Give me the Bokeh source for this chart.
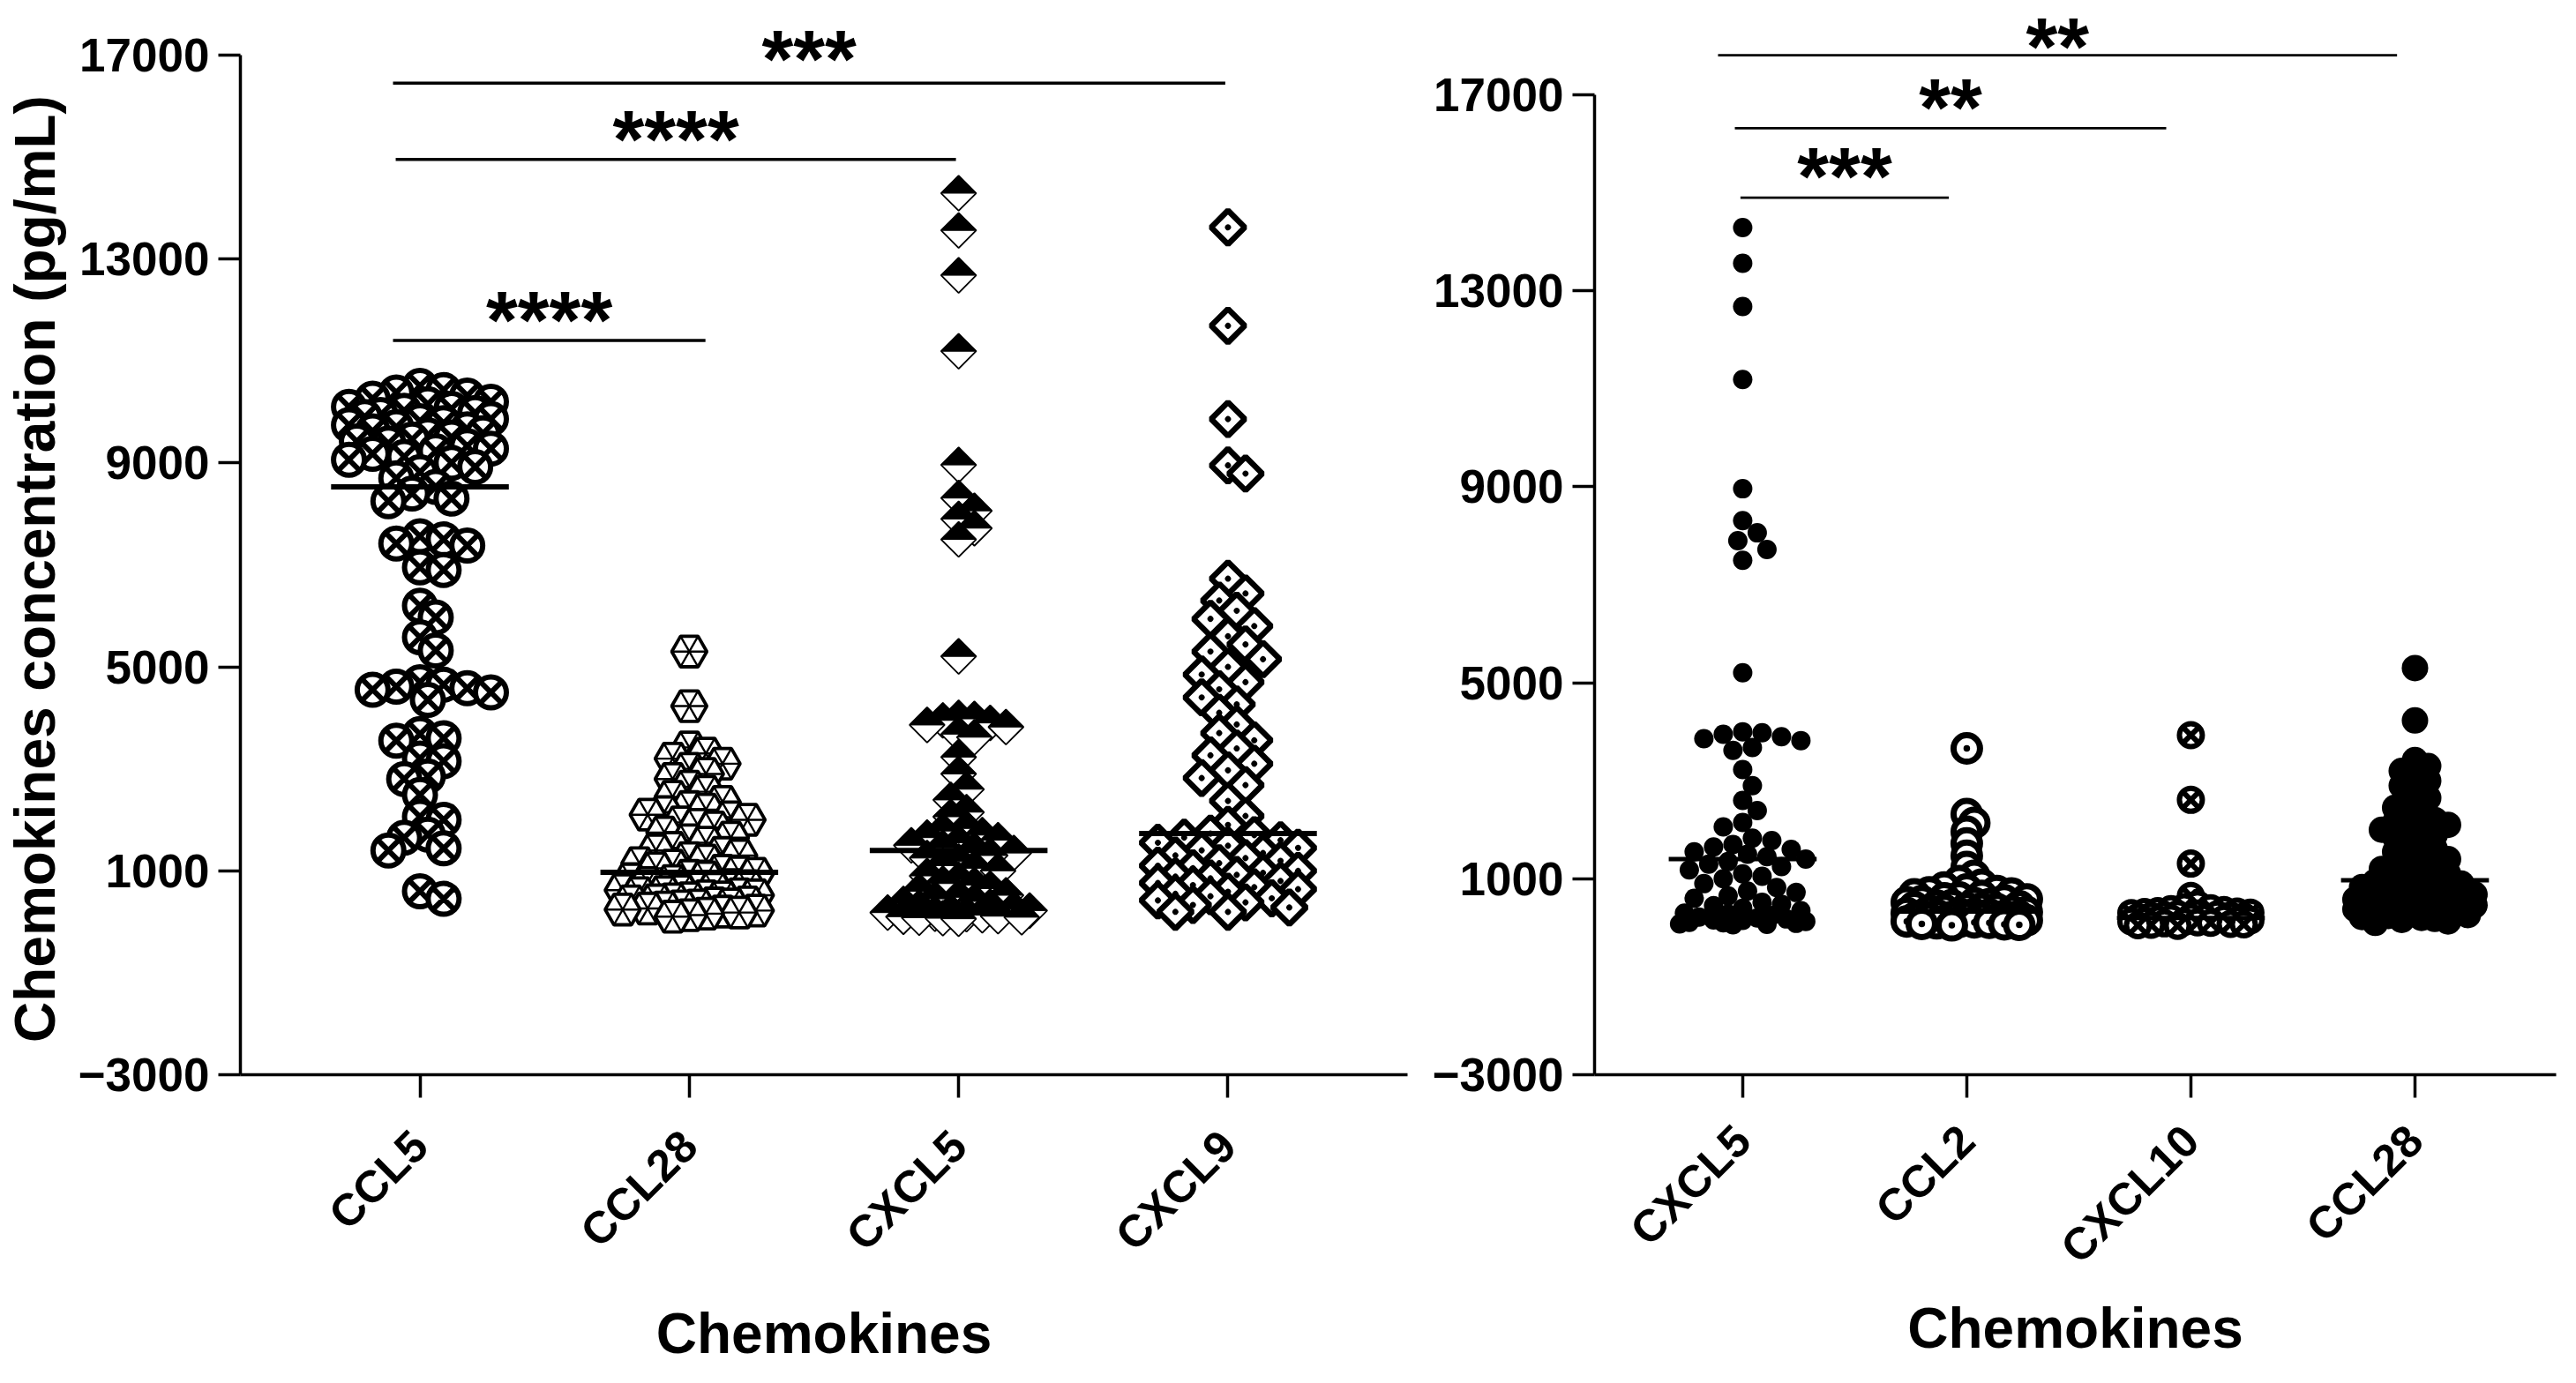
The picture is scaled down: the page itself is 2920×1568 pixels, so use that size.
import math
import numpy as np
from bokeh.plotting import figure
from bokeh.layouts import row
from bokeh.models import FixedTicker, Range1d
from bokeh.embed import file_html
from bokeh.resources import INLINE
from bokeh.core.properties import value

# ---------------- data ----------------
left_categories = ["CCL5", "CCL28", "CXCL5", "CXCL9"]
right_categories = ["CXCL5", "CCL2", "CXCL10", "CCL28"]
y_ticks = [-3000, 1000, 5000, 9000, 13000, 17000]

ccl5 = [10510, 10430, 10380, 10320, 10260, 10200, 10150, 10100, 10060, 10020, 9980, 9940,
        9900, 9860, 9820, 9780, 9740, 9700, 9660, 9620, 9580, 9540, 9500, 9460, 9420, 9380,
        9330, 9280, 9230, 9180, 9120, 9060, 9000, 8920, 8820, 8700, 8530,
        8400, 8300, 8250, 7560, 7500, 7420, 7380, 6950, 6900, 6200, 5970, 5580, 5320, 4700,
        4650, 4610, 4580, 4550, 4500, 4350, 3680, 3600, 3550, 3200, 3150, 2850, 2800, 2490,
        2060, 2000, 1710, 1650, 1440, 1400, 600, 450]

ccl28 = [5300, 4230, 3420, 3300, 3200, 3100, 3000, 2900, 2800, 2650, 2550, 2450, 2350, 2250,
         2200, 2150, 2100, 2050, 2000, 1950, 1900, 1850, 1750, 1650, 1600, 1550, 1450, 1400,
         1350, 1300, 1250, 1200, 1150, 1100, 1050, 1000, 970, 940, 900, 870, 830, 800, 760,
         720, 700, 680, 650, 620, 600, 580, 560, 540, 520, 500, 480, 460, 440, 420, 400, 380,
         360, 340, 320, 300, 280, 260, 240, 220, 200, 180, 160, 130, 100]

cxcl5 = [14290, 13560, 12680, 11190, 8960, 8310, 8060, 7900, 7720, 7500, 5205, 4000, 3980,
         3950, 3900, 3860, 3820, 3680, 3620, 3230, 2900, 2600, 2390, 2150, 2060, 1830, 1780,
         1700, 1650, 1600, 1550, 1500, 1450, 1400, 1350, 1300, 1250, 1180, 1100, 1050, 1000,
         900, 820, 750, 720, 650, 600, 520, 480, 450, 400, 350, 300, 280, 250, 220, 200, 180,
         160, 150, 130, 110, 100, 90, 80, 70, 60]

cxcl9 = [13620, 11690, 9860, 8950, 8790, 6730, 6440, 6300, 6100, 5940, 5800, 5600, 5440,
         5300, 5150, 5000, 4850, 4700, 4560, 4400, 4265, 4100, 3870, 3700, 3560, 3400, 3265,
         3100, 2970, 2820, 2680, 2370, 2075, 1900, 1730, 1700, 1650, 1600, 1550, 1490, 1450,
         1400, 1350, 1300, 1250, 1195, 1150, 1100, 1050, 1000, 960, 920, 885, 850, 800, 760,
         720, 680, 640, 590, 550, 500, 460, 420, 380, 330, 280, 195, 195]

ccl2 = [3660, 2320, 2140, 1960, 1720, 1470, 1240, 1060, 950, 880, 820, 780, 750, 720, 700,
        680, 650, 620, 600, 580, 560, 540, 520, 500, 480, 460, 450, 440, 420, 400, 390, 380,
        360, 350, 340, 320, 300, 290, 280, 270, 260, 250, 240, 230, 220, 210, 200, 190, 180,
        170, 160, 150, 140, 130, 120, 110, 100, 90, 80, 70, 60, 50]

cxcl10 = [3930, 2610, 1310, 650, 480, 420, 400, 380, 360, 340, 330, 320, 310, 300, 290, 280,
          270, 260, 250, 240, 230, 220, 210, 200, 190, 180, 170, 160, 150, 140, 130, 120, 110,
          100, 90, 80, 70, 60, 50, 40]

left_medians = [8530, 970, 1400, 1730]
right_medians = [1400, 330, 200, 970]

left_sig_labels = ["****", "****", "***"]
left_sig_y = [11400, 14950, 16450]
left_sig_text_y = [12200, 15740, 17310]
left_sig_x0 = [-0.10, -0.09, -0.10]
left_sig_x1 = [1.06, 1.99, 2.99]

right_sig_labels = ["***", "**", "**"]
right_sig_y = [14900, 16318, 17808]
right_sig_text_y = [15740, 17160, 18400]
right_sig_x0 = [-0.01, -0.035, -0.11]
right_sig_x1 = [0.92, 1.89, 2.92]

FONT = "Liberation Sans"
NBSP = "\u00a0"


# ---------------- helpers ----------------
def swarm(vals, diam, sx, sy, half_width, overlap=0.85):
    """Beeswarm horizontal offsets (in category units) computed in pixel space."""
    vals = np.asarray(vals, float)
    order = np.argsort(-vals, kind="stable")
    step = diam * 0.25
    n = int(half_width // step)
    cands = [0.0]
    for k in range(1, n + 1):
        cands += [k * step, -k * step]
    mind = diam * overlap
    px_l, py_l = [], []
    offs = np.zeros(len(vals))
    for i in order:
        y = vals[i] * sy
        chosen, best, bestscore = None, 0.0, -1.0
        for c in cands:
            ok, m = True, 1e9
            for qx, qy in zip(px_l, py_l):
                dy = abs(qy - y)
                if dy >= mind:
                    continue
                d = math.hypot(qx - c, dy)
                m = min(m, d)
                if d < mind:
                    ok = False
            if ok:
                chosen = c
                break
            if m > bestscore + 1e-6:
                bestscore, best = m, c
        if chosen is None:
            chosen = best
        offs[i] = chosen / sx
        px_l.append(chosen)
        py_l.append(y)
    return offs


def make_fig(width, mbl, mbb, xr, yr):
    p = figure(width=width, height=1552, x_range=Range1d(*xr), y_range=Range1d(*yr),
               output_backend="svg", toolbar_location=None,
               min_border_left=mbl, min_border_right=5, min_border_top=0,
               min_border_bottom=mbb)
    p.grid.visible = False
    p.outline_line_color = None
    p.background_fill_color = "white"
    p.border_fill_color = "white"
    for ax in (p.xaxis[0], p.yaxis[0]):
        ax.axis_line_width = 3.5
        ax.axis_line_color = "black"
        ax.major_tick_line_width = 3.5
        ax.major_tick_line_color = "black"
        ax.major_tick_in = 0
        ax.minor_tick_in = 0
        ax.minor_tick_out = 0
        ax.major_label_text_font = FONT
        ax.major_label_text_font_style = "bold"
        ax.major_label_text_color = "black"
        ax.axis_label_text_font = FONT
        ax.axis_label_text_font_style = "bold"
        ax.axis_label_text_color = "black"
    p.yaxis.ticker = FixedTicker(ticks=y_ticks)
    p.yaxis.bounds = (-3000, 17000)
    p.yaxis.major_tick_out = 25
    p.yaxis.major_label_text_font_size = "53px"
    p.yaxis.major_label_standoff = 10
    p.xaxis.ticker = FixedTicker(ticks=[0, 1, 2, 3])
    p.xaxis.major_tick_out = 26
    p.xaxis.major_label_orientation = math.pi / 4
    p.xaxis.major_label_text_font_size = "51px"
    p.xaxis.axis_label = "Chemokines"
    p.xaxis.axis_label_text_font_size = "64px"
    return p


def sig_text(p, xs0, xs1, ys, labels):
    p.text(x=[(a + b) / 2 for a, b in zip(xs0, xs1)], y=ys, text=labels,
           text_font=value(FONT), text_font_style="bold", text_font_size="92px",
           text_align="center", text_baseline="middle", y_offset=23, text_color="black")


# ---------------- left panel ----------------
L_XR = (-2 / 3, 3 + 2 / 3)
L_YR = (-3000, 18070)
p1 = make_fig(1600, 263, 331, L_XR, L_YR)
sx1 = 1332 / (L_XR[1] - L_XR[0])
sy1 = 1221 / (L_YR[1] - L_YR[0])
p1.xaxis.major_label_overrides = {i: c for i, c in enumerate(left_categories)}
p1.xaxis.major_label_standoff = 46
p1.xaxis.axis_label_standoff = 24
p1.yaxis.axis_label = "Chemokines concentration (pg/mL)" + NBSP * 4
p1.yaxis.axis_label_text_font_size = "64px"
p1.yaxis.axis_label_standoff = 10

# CCL5: circle with X
x = 0 + swarm(ccl5, 36, sx1, sy1, 84, overlap=0.6)
p1.scatter(x, ccl5, marker="circle_x", size=35, line_width=6, line_color="black",
           fill_color="white")

# CCL28: hexagon with spokes
x = 1 + swarm(ccl28, 38, sx1, sy1, 82, overlap=0.5)
R = 20.0
angs = np.deg2rad(np.arange(0, 360, 60))
hx, hy, lw = [], [], []
for xi, yi in zip(x, ccl28):
    hx.append(list(xi + R * np.cos(angs) / sx1))
    hy.append(list(yi + R * np.sin(angs) / sy1))
    lw.append(3.8)
    for a in angs[:3]:
        hx.append([xi + R * math.cos(a) / sx1, xi - R * math.cos(a) / sx1])
        hy.append([yi + R * math.sin(a) / sy1, yi - R * math.sin(a) / sy1])
        lw.append(2.4)
p1.patches(hx, hy, fill_color="white", line_color="black", line_width=lw)

# CXCL5: diamond, top half black
x = 2 + swarm(cxcl5, 36, sx1, sy1, 82, overlap=0.5)
R = 20.0
hw, hh = R / sx1, R / sy1
dx, dy, fc, lw = [], [], [], []
for xi, yi in zip(x, cxcl5):
    dx.append([xi - hw, xi, xi + hw, xi])
    dy.append([yi, yi + hh, yi, yi - hh])
    fc.append("white")
    lw.append(1.8)
    dx.append([xi - hw, xi, xi + hw])
    dy.append([yi, yi + hh, yi])
    fc.append("black")
    lw.append(1.0)
p1.patches(dx, dy, fill_color=fc, line_color="black", line_width=lw)

# CXCL9: thick diamond with dot
x = 3 + swarm(cxcl9, 40, sx1, sy1, 84, overlap=0.55)
p1.scatter(x, cxcl9, marker="square_dot", angle=math.pi / 4, size=27, line_width=6.5,
           line_color="black", fill_color="white")

# medians
cat = np.arange(4)
p1.segment(x0=cat - 0.33, x1=cat + 0.33, y0=left_medians, y1=left_medians,
           line_width=6, line_color="black")

# significance
p1.segment(x0=left_sig_x0, x1=left_sig_x1, y0=left_sig_y, y1=left_sig_y,
           line_width=3.5, line_color="black")
sig_text(p1, left_sig_x0, left_sig_x1, left_sig_text_y, left_sig_labels)

# ---------------- right panel ----------------
R_XR = (-0.661, 3.630)
R_YR = (-3000, 18926)
p2 = make_fig(1302, 207, 334, R_XR, R_YR)
sx2 = 1090 / (R_XR[1] - R_XR[0])
sy2 = 1218 / (R_YR[1] - R_YR[0])
p2.xaxis.major_label_overrides = {i: c for i, c in enumerate(right_categories)}
p2.xaxis.major_label_standoff = 40
p2.xaxis.axis_label_standoff = 4

x = 0 + swarm(cxcl5, 22, sx2, sy2, 74, overlap=0.9)
p2.scatter(x, cxcl5, marker="circle", size=22, line_width=0, fill_color="black",
           line_color="black")
x = 1 + swarm(ccl2, 34, sx2, sy2, 72, overlap=0.35)
p2.scatter(x, ccl2, marker="circle_dot", size=30, line_width=7, line_color="black",
           fill_color="white")
x = 2 + swarm(cxcl10, 30, sx2, sy2, 72, overlap=0.35)
p2.scatter(x, cxcl10, marker="circle_x", size=26, line_width=6, line_color="black",
           fill_color="white")
x = 3 + swarm(ccl28, 30, sx2, sy2, 70, overlap=0.5)
p2.scatter(x, ccl28, marker="circle", size=30, line_width=0, fill_color="black",
           line_color="black")

p2.segment(x0=cat - 0.33, x1=cat + 0.33, y0=right_medians, y1=right_medians,
           line_width=5, line_color="black")
p2.segment(x0=right_sig_x0, x1=right_sig_x1, y0=right_sig_y, y1=right_sig_y,
           line_width=2.8, line_color="black")
sig_text(p2, right_sig_x0, right_sig_x1, right_sig_text_y, right_sig_labels)

layout = row(p1, p2)
open("out.html", "w").write(file_html(layout, INLINE))
